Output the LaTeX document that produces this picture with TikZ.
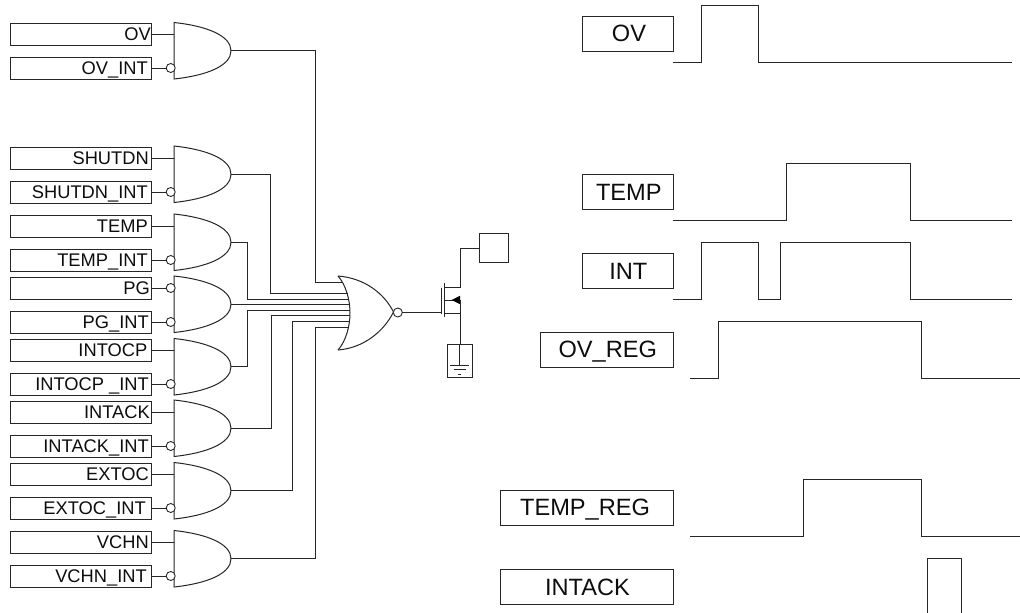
\documentclass[tikz,border=0pt]{standalone}
\usepackage{fontspec}
\setmainfont{Liberation Sans}
\tikzset{
  wire/.style={draw=black!85,line width=1pt,line join=miter},
  lbox/.style={draw=black!85,line width=1pt,fill=white,rectangle,inner sep=0pt,outer sep=0pt,minimum width=141pt,minimum height=22pt},
  rbox/.style={draw=black!85,line width=1pt,fill=white,rectangle,inner sep=0pt,outer sep=0pt,minimum height=34.5pt},
  ltext/.style={anchor=base east,inner sep=0pt,font=\fontsize{18.3pt}{20pt}\selectfont,text=black!95},
  rtext/.style={anchor=base,inner sep=0pt,font=\fontsize{23.6pt}{26pt}\selectfont,text=black!95},
  gatebox/.style={rectangle,inner sep=0pt,outer sep=0pt,minimum width=57pt,minimum height=56.5pt},
  bub/.style={circle,draw=black!85,line width=0.9pt,fill=white,inner sep=0pt,outer sep=0pt,minimum size=9pt},
  pin/.style={rectangle,inner sep=0pt,outer sep=0pt,minimum size=0pt},
}
% box name, top y, text, right end of the text
\newcommand{\sigbox}[4]{%
  \node[lbox] (#1) at (80.5,#2+11) {};
  \node[ltext] (#1t) at (#4,#2+17) {#3};
}
% gate name, top y
\newcommand{\andgate}[2]{%
  \node[gatebox] (#1) at (202.5,#2+28.25) {};
  \draw[wire,fill=white] (#1.north west) .. controls ($(#1.north west)+(33,3.5)$) and ($(#1.east)+(0,-15)$) .. (#1.east)
     .. controls ($(#1.east)+(0,15)$) and ($(#1.south west)+(33,-3.5)$) .. (#1.south west) -- cycle;
}
% plain input: box -> gate
\newcommand{\plainin}[2]{\draw[wire] (#1.east) -- (#1.east -| #2.west);}
% inverted input: box -> bubble
\newcommand{\invin}[2]{%
  \node[bub] (#1b) at (170.7,0 |- #1.east) {};
  \draw[wire] (#1.east) -- (#1b.west);
}
% right-hand label
\newcommand{\sigright}[7]{% name, left, right, top, text, text centre, baseline
  \node[rbox,minimum width=#3pt-#2pt] (#1) at ({(#2+#3)/2},#4+17.25) {};
  \node[rtext] (#1t) at (#6,#7) {#5};
}
\usetikzlibrary{calc}
\begin{document}
\begin{tikzpicture}[x=1pt,y=-1pt]
\useasboundingbox (0,0) rectangle (1020,613);
\fill[white] (0,0) rectangle (1020,613);

% input boxes
\sigbox{a1}{23}{OV}{151}
\sigbox{a2}{57}{OV\_INT}{148}
\sigbox{b1}{147}{SHUTDN}{149}
\sigbox{b2}{181}{SHUTDN\_INT}{148}
\sigbox{c1}{215}{TEMP}{148}
\sigbox{c2}{249}{TEMP\_INT}{148}
\sigbox{d1}{277}{PG}{150}
\sigbox{d2}{311}{PG\_INT}{149}
\sigbox{e1}{339}{INTOCP}{147.5}
\sigbox{e2}{373}{INTOCP \_INT}{149}
\sigbox{f1}{401}{INTACK}{150}
\sigbox{f2}{435}{INTACK\_INT}{149}
\sigbox{h1}{463}{EXTOC}{149}
\sigbox{h2}{497}{EXTOC\_INT}{146}
\sigbox{k1}{531}{VCHN}{149}
\sigbox{k2}{565}{VCHN\_INT}{147}

% AND gates
\andgate{ga}{22.5}
\andgate{gb}{146}
\andgate{gc}{214}
\andgate{gd}{276}
\andgate{ge}{338.5}
\andgate{gf}{400}
\andgate{gh}{462.5}
\andgate{gk}{530.5}

% gate inputs
\plainin{a1}{ga}\invin{a2}{ga}
\plainin{b1}{gb}\invin{b2}{gb}
\plainin{c1}{gc}\invin{c2}{gc}
\invin{d1}{gd}\invin{d2}{gd}
\plainin{e1}{ge}\invin{e2}{ge}
\plainin{f1}{gf}\invin{f2}{gf}
\plainin{h1}{gh}\invin{h2}{gh}
\plainin{k1}{gk}\invin{k2}{gk}

% NOR gate
\coordinate (ntop) at (338,276);
\coordinate (nbot) at (338,350);
\coordinate (ntip) at (393.5,312);
\coordinate (n1) at (343,282);
\coordinate (n2) at (347.5,293);
\coordinate (n3) at (349,299);
\coordinate (n4) at (349.5,304.25);
\coordinate (n5) at (350,310);
\coordinate (n6) at (350,315.5);
\coordinate (n7) at (349.5,321);
\coordinate (n8) at (348.5,327);
\coordinate (v1) at (315,282);
\coordinate (v2) at (270,293);
\coordinate (v3) at (247.5,299);
\coordinate (v5) at (247.5,310);
\coordinate (v6) at (271,315.5);
\coordinate (v7) at (292,321);
\coordinate (v8) at (315,327);

\draw[wire] (ga.east) -| (v1) -- (n1);
\draw[wire] (gb.east) -| (v2) -- (n2);
\draw[wire] (gc.east) -| (v3) -- (n3);
\draw[wire] (gd.east) -- (n4);
\draw[wire] (ge.east) -| (v5) -- (n5);
\draw[wire] (gf.east) -| (v6) -- (n6);
\draw[wire] (gh.east) -| (v7) -- (n7);
\draw[wire] (gk.east) -| (v8) -- (n8);

\draw[wire] (ntop) .. controls (346,285) and (350,300) .. (350,313)
   .. controls (350,326) and (346,341) .. (nbot);
\draw[wire] (ntop) .. controls (364,278) and (384,293) .. (ntip)
   .. controls (384,331) and (364,348) .. (nbot);
\node[bub] (nbub) at (397.8,312.5) {};

% MOSFET
\coordinate (mg) at (441,312.5);
\coordinate (gtop) at (441,287.7);
\coordinate (gbot) at (441,314);
\coordinate (ctop) at (444.5,283);
\coordinate (cbot) at (444.5,316.7);
\coordinate (dr) at (444.5,287.7);
\coordinate (drc) at (460,287.7);
\coordinate (ar) at (444.5,300);
\coordinate (arc) at (460,300);
\coordinate (so) at (444.5,313);
\coordinate (soc) at (460,313);
\node[rectangle,draw=black!85,line width=1pt,fill=white,inner sep=0pt,outer sep=0pt,minimum size=28.5pt] (out) at (494,248.2) {};
\node[rectangle,draw=black!85,line width=1pt,fill=white,inner sep=0pt,outer sep=0pt,minimum width=25pt,minimum height=33.3pt] (gnd) at (459.5,361.3) {};
\draw[wire] (nbub.east) -- (mg);
\draw[wire] (gtop) -- (gbot);
\draw[wire] (ctop) -- (cbot);
\draw[wire] (dr) -- (drc) |- (out.west);
\draw[wire] (ar) -- (arc);
\fill[black] (451.5,300) -- (460,295.8) -- (460,304.2) -- cycle;
\draw[wire] (so) -- (soc);
\draw[wire] (arc) -- (arc |- gnd.north);
\coordinate (g0) at (459.3,365);
\draw[wire] (g0 |- gnd.north) -- (g0);
\draw[wire] (450,365) -- (469.3,365);
\draw[wire] (453.5,369.5) -- (465.5,369.5);
\draw[wire] (458,374) -- (461,374);

% timing labels
\sigright{ov}{582.5}{673.5}{16.5}{OV}{629}{41.7}
\sigright{temp}{582.5}{673.5}{174.5}{TEMP}{628.8}{200}
\sigright{int}{582.5}{673.5}{253.5}{INT}{628.3}{279}
\sigright{ovr}{540}{673.3}{332.5}{OV\_REG}{607.8}{357.5}
\sigright{tmr}{500.7}{673.3}{490.5}{TEMP\_REG}{585}{515.5}
\sigright{ack}{500.7}{673.3}{569.5}{INTACK}{587.5}{595}

% waveforms
\draw[wire] (673,62) -- (701.5,62) -- (701.5,5.5) -- (758,5.5) -- (758,62) -- (1012,62);
\draw[wire] (673,220) -- (786,220) -- (786,163.5) -- (910.5,163.5) -- (910.5,220) -- (1012,220);
\draw[wire] (673,299) -- (701.5,299) -- (701.5,242.5) -- (758,242.5) -- (758,299) -- (780.5,299) -- (780.5,242.5) -- (910.5,242.5) -- (910.5,299) -- (1012,299);
\draw[wire] (690,378) -- (718.3,378) -- (718.3,321.5) -- (921.7,321.5) -- (921.7,378) -- (1020,378);
\draw[wire] (690,536) -- (803,536) -- (803,479.5) -- (921.7,479.5) -- (921.7,536) -- (1020,536);
\draw[wire] (927.3,613) -- (927.3,558.5) -- (961.3,558.5) -- (961.3,613);
\end{tikzpicture}
\end{document}
